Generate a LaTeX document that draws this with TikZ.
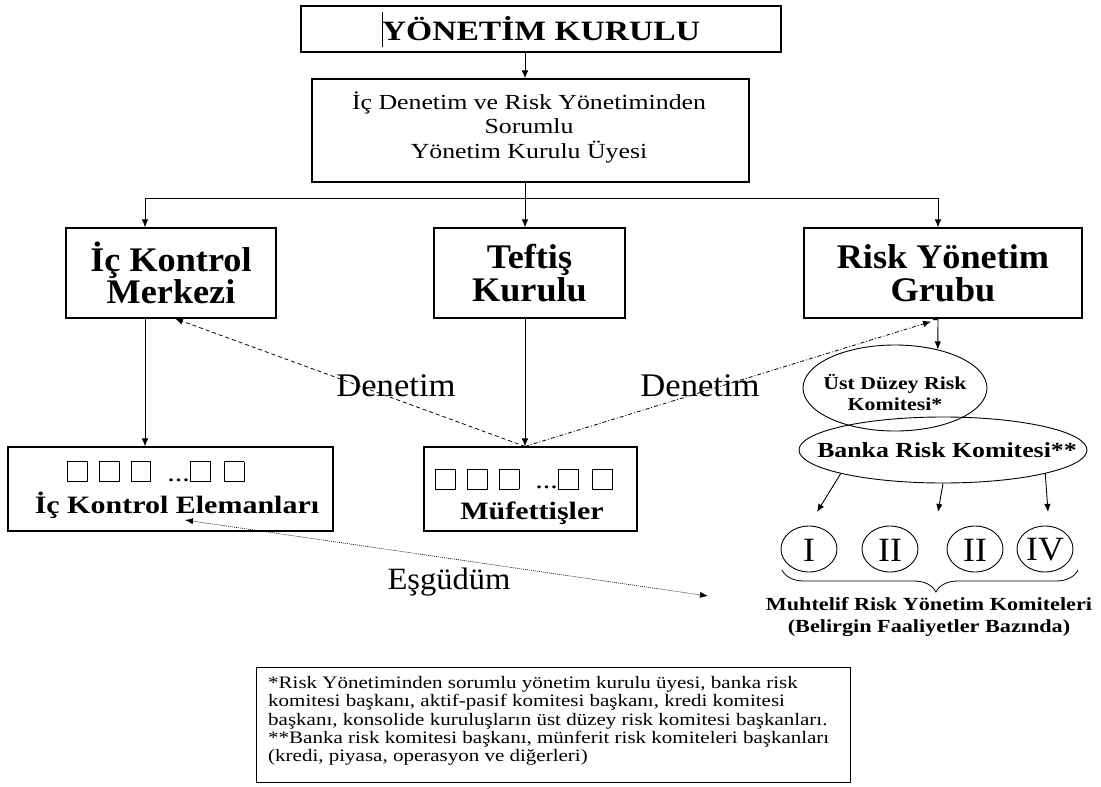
\documentclass[tikz,border=0pt]{standalone}
\usepackage{fontspec}
\setmainfont{Liberation Serif}[FakeStretch=1.2]
\newfontfamily\tallfam{Liberation Serif}[FakeStretch=1.05]
\usetikzlibrary{arrows.meta,shapes.geometric,decorations.pathreplacing}

% font size helper
\newcommand\setfs[2]{\fontsize{#1}{#2}\selectfont}
% small empty square used for the staff placeholders
\newcommand\cellsq{{\setlength\fboxsep{0pt}\setlength\fboxrule{0.9pt}\fbox{\rule{0pt}{19pt}\rule{19pt}{0pt}}}}
\newcommand\cellrow{\cellsq\hspace{11pt}\cellsq\hspace{11pt}\cellsq\hspace{16pt}...\cellsq\hspace{13pt}\cellsq}

\begin{document}
\begin{tikzpicture}[x=1pt,y=-1pt,
  every node/.style={text=black},
  box/.style={draw, rectangle, line width=1.1pt, inner sep=0pt},
  oval/.style={draw, ellipse, line width=0.9pt, inner sep=0pt},
  tip/.style={-{Latex[length=8pt,width=6.5pt]}},
  arr/.style={line width=0.9pt, tip},
  link/.style={line width=0.9pt},
  audit/.style={line width=0.8pt, dash pattern=on 4pt off 3pt, tip},
  auditdd/.style={line width=0.8pt, dash pattern=on 4pt off 2pt on 1pt off 2pt, tip},
  coordline/.style={line width=0.6pt, dash pattern=on 1pt off 1pt,
    {Latex[length=8pt,width=6pt]}-{Latex[length=8pt,width=6pt]}},
  bigbold/.style={font=\tallfam\setfs{34.5}{32.5}\bfseries, align=center},
  numeral/.style={inner sep=0pt, font=\tallfam\setfs{34}{36}},
  ring/.style={line width=0.9pt},
]
\useasboundingbox (0,0) rectangle (1101,787);

% board
\node[box, minimum width=480pt, minimum height=46pt, font=\setfs{28}{30}\bfseries]
  (board) at (541,29) {YÖNETİM KURULU};
\draw[line width=0.6pt] (382.5,12) -- (382.5,47);

% responsible board member
\node[box, minimum width=437pt, minimum height=103pt] (member) at (530.5,130.5) {};
\node[font=\setfs{21.5}{24.5}, align=center] (memberT) at (529,127)
  {İç Denetim ve Risk Yönetiminden\\Sorumlu\\Yönetim Kurulu Üyesi};

% three units
\node[box, minimum width=210pt, minimum height=90pt, bigbold] (ick) at (171,273) {İç Kontrol\\Merkezi};
\node[box, minimum width=191pt, minimum height=90pt, bigbold] (tef) at (529.5,273) {Teftiş\\Kurulu};
\node[box, minimum width=278pt, minimum height=90pt, bigbold] (rsk) at (943,273) {Risk Yönetim\\Grubu};

% staff boxes
\node[box, minimum width=325pt, minimum height=84pt] (icel) at (170.5,489) {};
\node[font=\setfs{25}{32}\bfseries, align=center] (icelT) at (177,490)
  {\makebox[220pt][l]{\mdseries\cellrow}\\İç Kontrol Elemanları};
\node[box, minimum width=213pt, minimum height=84pt] (muf) at (530.5,489) {};
\node[font=\setfs{25}{31}\bfseries, align=center] (mufT) at (532,497)
  {\makebox[194pt][l]{\mdseries\cellrow}\\Müfettişler};

% committees
\node[oval, minimum width=184pt, minimum height=86pt] (e1) at (895,388) {};
\node[font=\setfs{18.2}{21}\bfseries, align=center] (e1T) at (895,393) {Üst Düzey Risk\\Komitesi*};
\node[oval, minimum width=288pt, minimum height=66pt] (e2) at (943,450) {};
\node[font=\setfs{21.5}{24}\bfseries] (e2T) at (947,450) {Banka Risk Komitesi**};

% specific risk committees: numerals with an oval drawn round each
\node[numeral] (rk1) at (809,550) {I};
\node[numeral] (rk2) at (890,550) {II};
\node[numeral] (rk3) at (975,550) {II};
\node[numeral] (rk4) at (1045,550) {IV};
\foreach \r in {rk1,rk2,rk3,rk4}
  \draw[ring] ([yshift=1pt]\r.center) ellipse [x radius=28, y radius=23];

% hierarchy connectors
\coordinate (bus) at (525,198);
\coordinate (busL) at (145,198);
\coordinate (busR) at (938,198);
\draw[arr] ([xshift=-16pt]board.south) -- ([xshift=-5.5pt]member.north);
\draw[link] ([xshift=-5.5pt]member.south) -- (bus);
\draw[link] (busL) -- (busR);
\draw[arr] (busL) -- (busL |- ick.north);
\draw[arr] (bus) -- (bus |- tef.north);
\draw[arr] (busR) -- (busR |- rsk.north);
\draw[arr] (busL |- ick.south) -- (busL |- icel.north);
\draw[arr] (bus |- tef.south) -- (bus |- muf.north);

% audit links
\draw[audit] (bus |- muf.north) -- ([xshift=4pt]ick.south);
\draw[auditdd] (bus |- muf.north) -- ([xshift=-12pt,yshift=-3pt]rsk.south);
\node[font=\tallfam\setfs{33}{34}] (aud1) at (396,386) {Denetim};
\node[font=\tallfam\setfs{33}{34}] (aud2) at (700,386) {Denetim};

% risk group to committees
\draw[arr] ([xshift=-10pt,yshift=-1pt]rsk.south) -- ++(5,0) -- (e1.42);
\coordinate (a1) at (817,512);
\coordinate (a2) at (938,512);
\coordinate (a3) at (1048,512);
\draw[arr] (e2.193) -- (a1);
\draw[arr] (e2.south) -- (a2);
\draw[arr] (e2.347) -- (a3);

% brace and caption
\coordinate (brL) at (782,570);
\coordinate (brR) at (1078,570);
\draw[line width=0.8pt, decorate, decoration={brace, mirror, amplitude=22pt, aspect=0.52}] (brL) -- (brR);
\node[font=\setfs{18.5}{22}\bfseries, align=center] (cap) at (929,617)
  {Muhtelif Risk Yönetim Komiteleri\\(Belirgin Faaliyetler Bazında)};

% coordination
\coordinate (eL) at (185,520);
\coordinate (eR) at (708,596);
\draw[coordline] (eL) -- (eR);
\node[font=\tallfam\setfs{31}{32}] (coordT) at (449,582) {Eşgüdüm};

% footnote
\node[box, line width=1pt, minimum width=594pt, minimum height=115pt] (note) at (553,724.5) {};
\node[font=\setfs{17.5}{18.4}, align=left, anchor=north west, inner sep=0pt] (noteT) at (268,676)
  {*Risk Yönetiminden sorumlu yönetim kurulu üyesi, banka risk\\
   komitesi başkanı, aktif-pasif komitesi başkanı, kredi komitesi\\
   başkanı, konsolide kuruluşların üst düzey risk komitesi başkanları.\\
   **Banka risk komitesi başkanı, münferit risk komiteleri başkanları\\
   (kredi, piyasa, operasyon ve diğerleri)};
\end{tikzpicture}
\end{document}
